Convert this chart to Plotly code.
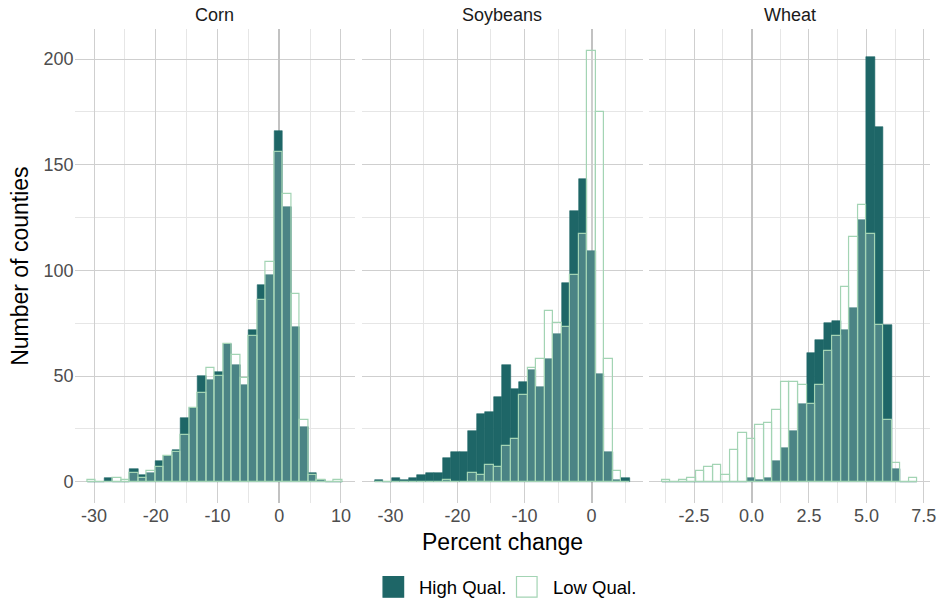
import numpy as np
import plotly.graph_objects as go

# ---- data: 30-bin histograms of county-level percent change ----
crops = ["Corn", "Soybeans", "Wheat"]

# bin layout for each crop (left edge of first bin, bin width)
corn_bin_start, corn_bin_width = -31.1, 1.378
soy_bin_start, soy_bin_width = -32.35, 1.2687
wheat_bin_start, wheat_bin_width = -3.90, 0.3706

corn_high = [0, 0, 2, 0, 0, 6, 3, 4, 10, 12, 15, 30, 35, 50, 48, 52, 65, 55, 46, 72,
             93, 98, 166, 130, 73, 26, 4, 1, 0, 0]
corn_low = [1, 0, 0, 2, 1, 4, 2, 5, 7, 12, 14, 22, 35, 42, 54, 50, 65, 60, 49, 69,
            86, 104, 156, 136, 89, 29, 3, 1, 0, 1]

soy_high = [1, 0, 2, 1, 2, 3, 4, 4, 11, 14, 14, 24, 32, 33, 40, 55, 44, 47, 53, 45,
            58, 70, 94, 128, 143, 109, 51, 14, 1, 2]
soy_low = [0, 0, 0, 0, 0, 0, 0, 0, 1, 0, 0, 4, 3, 8, 7, 17, 20, 41, 54, 58,
           81, 75, 73, 98, 117, 204, 175, 58, 5, 0]

wheat_high = [0, 0, 0, 0, 0, 0, 0, 0, 0, 0, 2, 1, 2, 10, 16, 24, 37, 61, 67, 75,
              76, 72, 82, 124, 201, 168, 74, 6, 0, 0]
wheat_low = [1, 0, 1, 2, 5, 7, 8, 3, 15, 23, 20, 27, 28, 34, 47, 47, 46, 37, 46, 62,
             69, 92, 116, 131, 117, 74, 29, 9, 0, 2]

x_ticks = {
    "Corn": [-30, -20, -10, 0, 10],
    "Soybeans": [-30, -20, -10, 0],
    "Wheat": [-2.5, 0, 2.5, 5, 7.5],
}
x_minor = {
    "Corn": [-25, -15, -5, 5],
    "Soybeans": [-25, -15, -5, 5],
    "Wheat": [-3.75, -1.25, 1.25, 3.75, 6.25],
}
x_ranges = {
    "Corn": [-33.17, 12.29],
    "Soybeans": [-34.25, 7.62],
    "Wheat": [-4.455, 7.77],
}
y_ticks = [0, 50, 100, 150, 200]
y_minor = [25, 75, 125, 175]
y_range = [-10.2, 214.2]

series = {
    "Corn": (corn_bin_start, corn_bin_width, corn_high, corn_low),
    "Soybeans": (soy_bin_start, soy_bin_width, soy_high, soy_low),
    "Wheat": (wheat_bin_start, wheat_bin_width, wheat_high, wheat_low),
}

# ---- styling ----
W, H = 946, 602
FONT = "Liberation Sans, Arial, Helvetica, sans-serif"
HIGH_FILL = "#1e6667"
LOW_LINE = "#a3d4b4"
LOW_FILL = "rgba(255,255,255,0.2)"
GRID_MAJOR = "#cfcfcf"
GRID_MINOR = "#e6e6e6"

# panel extents in pixels
panel_x = [(75.0, 357.3), (364.3, 646.7), (653.3, 936.0)]
panel_top, panel_bottom = 29.0, 503.3


def px_x(v):
    return v / W


def px_y(v):
    return (H - v) / H


fig = go.Figure()

for i, crop in enumerate(crops):
    start, width, high, low = series[crop]
    centers = start + width * (np.arange(len(high)) + 0.5)
    ax = "" if i == 0 else str(i + 1)
    fig.add_trace(go.Bar(
        x=centers, y=high, width=width,
        marker=dict(color=HIGH_FILL, line=dict(color=HIGH_FILL, width=0.6)),
        name="High Qual.", showlegend=False,
        xaxis="x" + ax, yaxis="y" + ax,
    ))
    fig.add_trace(go.Bar(
        x=centers, y=low, width=width,
        marker=dict(color=LOW_FILL, line=dict(color=LOW_LINE, width=1.2)),
        name="Low Qual.", showlegend=False,
        xaxis="x" + ax, yaxis="y" + ax,
    ))

    x0, x1 = panel_x[i]
    xaxis = dict(
        domain=[px_x(x0), px_x(x1)],
        range=x_ranges[crop],
        tickvals=x_ticks[crop],
        ticktext=[("%g" % t) if crop != "Wheat" else "%.1f" % t for t in x_ticks[crop]],
        showgrid=True, gridcolor=GRID_MAJOR, gridwidth=1.2,
        minor=dict(tickvals=x_minor[crop], showgrid=True, gridcolor=GRID_MINOR, gridwidth=1.0),
        zeroline=True, zerolinecolor="#c2c2c2", zerolinewidth=1.8,
        showline=False, ticks="",
        tickfont=dict(family=FONT, size=18, color="#4d4d4d"),
        anchor="y" + ax,
        fixedrange=True,
    )
    yaxis = dict(
        domain=[px_y(panel_bottom), px_y(panel_top)],
        range=y_range,
        tickvals=y_ticks,
        showgrid=True, gridcolor=GRID_MAJOR, gridwidth=1.2,
        minor=dict(tickvals=y_minor, showgrid=True, gridcolor=GRID_MINOR, gridwidth=1.0),
        zeroline=False, showline=False, ticks="",
        showticklabels=(i == 0),
        tickfont=dict(family=FONT, size=18, color="#4d4d4d"),
        anchor="x" + ax,
        fixedrange=True,
    )
    fig.update_layout(**{"xaxis" + ax: xaxis, "yaxis" + ax: yaxis})

    # facet strip label
    fig.add_annotation(
        x=px_x((x0 + x1) / 2), y=px_y(15), xref="paper", yref="paper",
        text=crop, showarrow=False, xanchor="center", yanchor="middle",
        font=dict(family=FONT, size=18, color="#1a1a1a"),
    )

# axis titles
fig.add_annotation(
    x=px_x(505.5), y=px_y(542), xref="paper", yref="paper",
    text="Percent change", showarrow=False, xanchor="center", yanchor="middle",
    font=dict(family=FONT, size=23, color="#000000"),
)
fig.add_annotation(
    x=px_x(20), y=px_y(266), xref="paper", yref="paper",
    text="Number of counties", showarrow=False, textangle=-90,
    xanchor="center", yanchor="middle",
    font=dict(family=FONT, size=23, color="#000000"),
)

# legend: swatches and labels
legend_items = [
    ("High Qual.", 385.0, HIGH_FILL, HIGH_FILL, 420.0),
    ("Low Qual.", 519.3, "#ffffff", LOW_LINE, 555.0),
]
for label, sx, fill, line, tx in legend_items:
    fig.add_shape(
        type="rect", xref="paper", yref="paper",
        x0=px_x(sx + 0.5), x1=px_x(sx + 21.2), y0=px_y(597.2), y1=px_y(576.5),
        fillcolor=fill, line=dict(color=line, width=1.2),
    )
    fig.add_annotation(
        x=px_x(tx), y=px_y(587), xref="paper", yref="paper",
        text=label, showarrow=False, xanchor="left", yanchor="middle",
        font=dict(family=FONT, size=18.5, color="#000000"),
    )

fig.update_layout(
    width=W, height=H, autosize=False,
    margin=dict(l=0, r=0, t=0, b=0),
    paper_bgcolor="white", plot_bgcolor="white",
    barmode="overlay", bargap=0,
    showlegend=False,
)

fig.write_html("out.html")
